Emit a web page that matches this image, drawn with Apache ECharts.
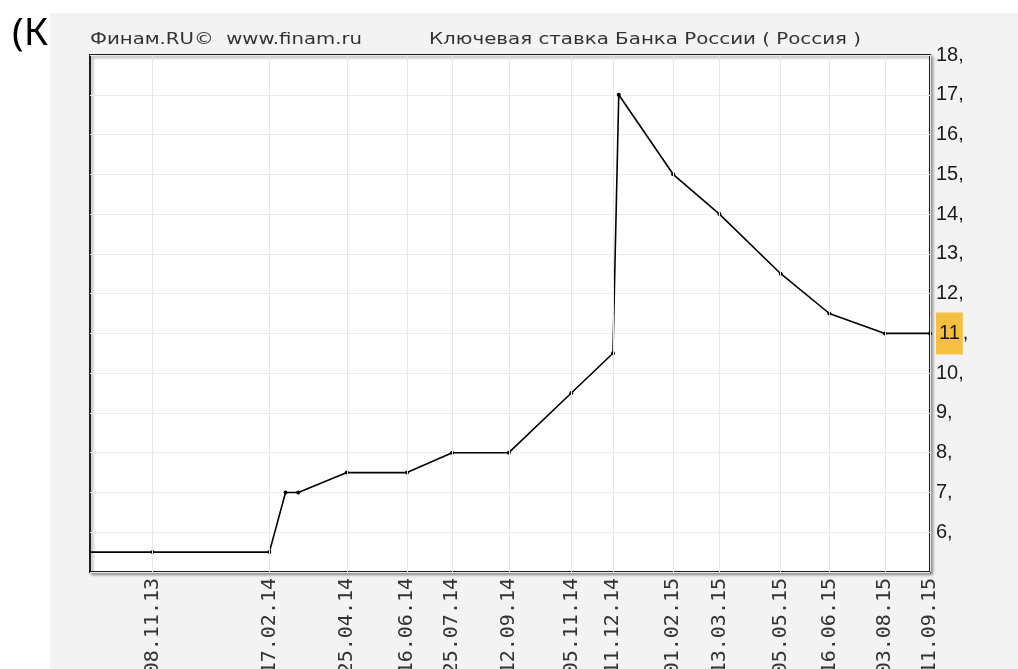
<!DOCTYPE html>
<html><head><meta charset="utf-8">
<script src="https://cdn.jsdelivr.net/npm/echarts@6/dist/echarts.min.js"></script>
<style>html,body{margin:0;padding:0;background:#fff}#c{width:1018px;height:669px}</style>
</head><body><div id="c"></div>
<script>
// ---- data ----
const tickDates = ['2013-11-08','2014-02-17','2014-04-25','2014-06-16','2014-07-25','2014-09-12','2014-11-05','2014-12-11','2015-02-01','2015-03-13','2015-05-05','2015-06-16','2015-08-03','2015-09-11'];
const rateDates = ['2013-09-13','2013-11-08','2014-02-17','2014-03-03','2014-03-14','2014-04-25','2014-06-16','2014-07-25','2014-09-12','2014-11-05','2014-12-11','2014-12-16','2015-02-01','2015-03-13','2015-05-05','2015-06-16','2015-08-03','2015-09-11'];
const rateValues = [5.5,5.5,5.5,7,7,7.5,7.5,8,8,9.5,10.5,17,15,14,12.5,11.5,11,11];
const xRange = ['2013-09-15','2015-09-11'];
const yRange = [5, 18];
const highlightValue = 11;
const sourceText = 'Финам.RU©  www.finam.ru';
const titleText = 'Ключевая ставка Банка России ( Россия )';
const slideText = '(К';

// ---- helpers ----
const toTs = d => new Date(d + 'T00:00:00').getTime();
const pad = n => (n < 10 ? '0' : '') + n;
const fmtDate = v => { const d = new Date(v); return pad(d.getDate()) + '.' + pad(d.getMonth() + 1) + '.' + pad(d.getFullYear() % 100); };
const cv = document.createElement('canvas').getContext('2d');
function scaleFor(text, font, target) { cv.font = font; return target / cv.measureText(text).width; }
const titleFont = '16px "DejaVu Sans"';

const chart = echarts.init(document.getElementById('c'), null, { renderer: 'canvas' });
const option = {
  backgroundColor: '#ffffff',
  animation: false,
  graphic: [
    { type: 'text', z: -20, x: 12, y: 34, style: { text: slideText, font: '39px "Noto Sans"', fill: '#000', textVerticalAlign: 'middle' } },
    { type: 'rect', z: -10, shape: { x: 50, y: 13, width: 968, height: 656 }, style: { fill: '#f3f3f3' } },
    { type: 'text', z: 10, x: 90, y: 40, scaleX: scaleFor(sourceText, titleFont, 272), style: { text: sourceText, font: titleFont, fill: '#333', textVerticalAlign: 'middle' } },
    { type: 'text', z: 10, x: 429, y: 40, scaleX: scaleFor(titleText, titleFont, 432), style: { text: titleText, font: titleFont, fill: '#333', textVerticalAlign: 'middle' } }
  ],
  grid: {
    left: 90, right: 88, top: 55, bottom: 97,
    outerBoundsMode: 'none', containLabel: false,
    show: true, backgroundColor: '#ffffff', borderColor: '#1e1e1e', borderWidth: 2,
    shadowColor: 'rgba(0,0,0,0.35)', shadowBlur: 3, shadowOffsetX: 2, shadowOffsetY: 2
  },
  xAxis: {
    type: 'value', min: toTs(xRange[0]), max: toTs(xRange[1]), scale: true,
    axisLine: { show: false }, axisTick: { show: false }, splitLine: { show: false },
    axisLabel: {
      customValues: tickDates.map(toTs), rotate: 90, margin: 6,
      formatter: v => fmtDate(v),
      fontFamily: 'DejaVu Sans Mono', fontSize: 20, color: '#333',
      showMinLabel: true, showMaxLabel: true, hideOverlap: false
    }
  },
  yAxis: {
    type: 'value', position: 'right', min: yRange[0], max: yRange[1], interval: 1,
    axisLine: { show: false },
    axisTick: { show: false },
    splitLine: { show: true, lineStyle: { color: '#ebebeb', width: 1 } },
    axisLabel: {
      margin: 6, showMinLabel: false,
      fontFamily: 'Liberation Sans', fontSize: 20, color: '#1a1a1a',
      formatter: v => v === highlightValue ? '{hl|' + v + '}{n|,}' : '{n|' + v + ',}',
      rich: {
        n: { fontFamily: 'Liberation Sans', fontSize: 20, color: '#1a1a1a' },
        hl: { fontFamily: 'Liberation Sans', fontSize: 20, color: '#1a1a1a', backgroundColor: '#f5c040', padding: [11, 3, 11, 3] }
      }
    }
  },
  series: [
    {
      type: 'line', z: 1, silent: true, data: [],
      markLine: {
        silent: true, symbol: 'none', label: { show: false },
        lineStyle: { color: '#e6e6e6', width: 1, type: 'solid' },
        data: tickDates.map(d => ({ xAxis: toTs(d) }))
      }
    },
    {
      type: 'line', z: 3, clip: true,
      data: rateDates.map((d, i) => [toTs(d), rateValues[i]]),
      lineStyle: { color: '#000', width: 1.6 },
      itemStyle: { color: '#000' },
      symbol: 'circle', symbolSize: 4, showAllSymbol: true
    }
  ]
};
chart.setOption(option);
</script>
</body></html>
